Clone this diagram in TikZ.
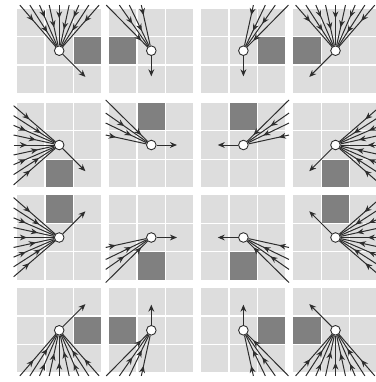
\documentclass[tikz,border=0pt]{standalone}
\usetikzlibrary{arrows.meta,decorations.markings}
\definecolor{cellc}{RGB}{221,221,221}
\definecolor{darkc}{RGB}{128,128,128}
\definecolor{linec}{RGB}{45,45,45}
\tikzset{
  hub/.style={circle, draw=linec, fill=white, line width=0.75pt, minimum size=8.2pt, inner sep=0pt},
  outarrow/.style={color=linec, line width=0.85pt, -{Stealth[length=6pt,width=5pt]}},
  inarrow/.style={color=linec, line width=0.85pt, postaction={decorate},
    decoration={markings, mark=at position #1 with {\arrow{Stealth[length=6pt,width=5pt]}}}},
}
% grid of 3x3 cells with one dark cell at local (#1,#2)
\newcommand\cellgrid[2]{%
  \foreach \ci in {-1,0,1}{\foreach \cj in {-1,0,1}{%
    \fill[cellc] (\ci-0.474,\cj-0.474) rectangle (\ci+0.474,\cj+0.474);}}%
  \fill[darkc] (#1-0.474,#2-0.474) rectangle (#1+0.474,#2+0.474);}
% panel type A: nine incoming lines from the top, dark cell right, out arrow down-right
\newcommand\panelA[4]{%
\begin{scope}[shift={(#2,#3)}, x=0.855cm, y=0.855cm, cm={#4,(0,0)}]
  \cellgrid{1}{0}
  \node[hub] (#1) at (0,0) {};
  \foreach \sx/\sp [count=\k] in {-1.38/0.38,-1.03/0.66,-0.69/0.3,-0.35/0.55,0/0.33,0.35/0.6,0.69/0.3,1.04/0.62,1.4/0.4}{%
    \coordinate (#1s\k) at (\sx,1.6);
    \draw[inarrow=\sp] (#1s\k) -- (#1);}
  \coordinate (#1o) at (0.92,-0.92);
  \draw[outarrow] (#1) -- (#1o);
\end{scope}}
% panel type B: four incoming lines from the upper left, dark cell left, out arrow down
\newcommand\panelB[4]{%
\begin{scope}[shift={(#2,#3)}, x=0.855cm, y=0.855cm, cm={#4,(0,0)}]
  \cellgrid{-1}{0}
  \node[hub] (#1) at (0,0) {};
  \foreach \sx/\sp [count=\k] in {-1.58/0.85,-1.12/0.45,-0.77/0.63,-0.35/0.25}{%
    \coordinate (#1s\k) at (\sx,1.6);
    \draw[inarrow=\sp] (#1s\k) -- (#1);}
  \coordinate (#1o) at (0,-0.9);
  \draw[outarrow] (#1) -- (#1o);
\end{scope}}
\begin{document}
\begin{tikzpicture}[x=0.03cm, y=0.03cm]
  \useasboundingbox (0,0) rectangle (376,382);
  \clip (0,0) rectangle (376,382);
  % row 1
  \panelA{pa}{59.2}{331.3}{1,0,0,1}
  \panelB{pb}{151.3}{331.3}{1,0,0,1}
  \panelB{pc}{243.4}{331.3}{-1,0,0,1}
  \panelA{pd}{335.5}{331.3}{-1,0,0,1}
  % row 2
  \panelA{pe}{59.2}{237}{0,-1,-1,0}
  \panelB{pf}{151.3}{237}{0,-1,-1,0}
  \panelB{pg}{243.4}{237}{0,-1,1,0}
  \panelA{ph}{335.5}{237}{0,-1,1,0}
  % row 3
  \panelA{pi}{59.2}{144.5}{0,1,-1,0}
  \panelB{pj}{151.3}{144.5}{0,1,-1,0}
  \panelB{pk}{243.4}{144.5}{0,1,1,0}
  \panelA{pl}{335.5}{144.5}{0,1,1,0}
  % row 4
  \panelA{pm}{59.2}{51.7}{1,0,0,-1}
  \panelB{pn}{151.3}{51.7}{1,0,0,-1}
  \panelB{po}{243.4}{51.7}{-1,0,0,-1}
  \panelA{pp}{335.5}{51.7}{-1,0,0,-1}
\end{tikzpicture}
\end{document}
